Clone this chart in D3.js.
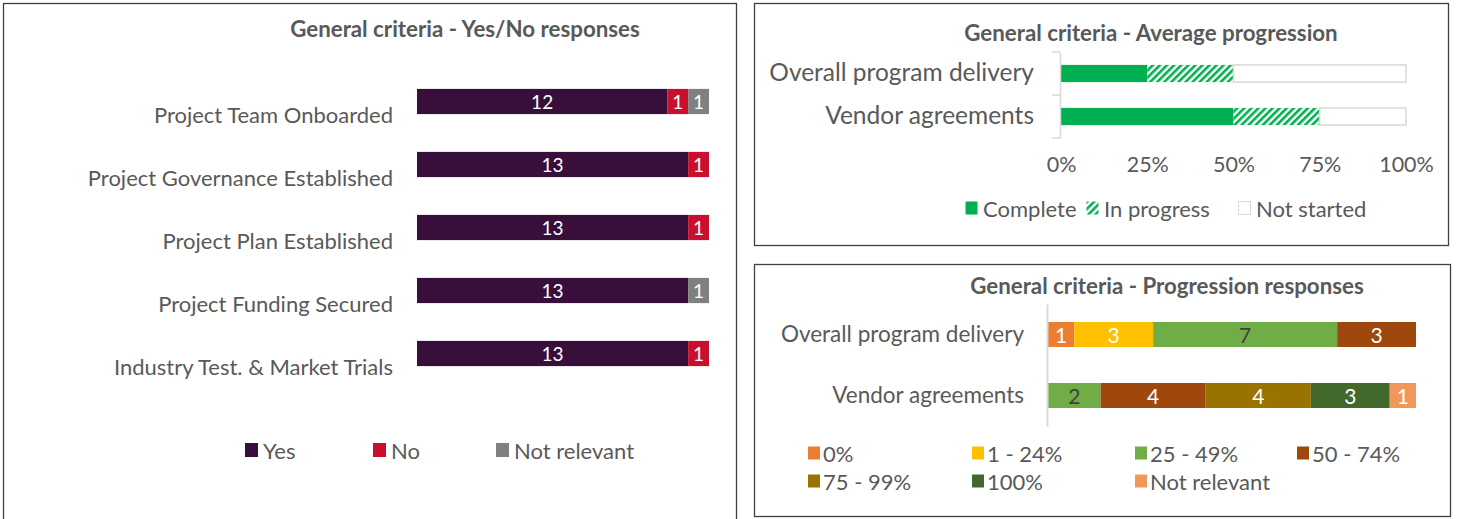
<!DOCTYPE html>
<html>
<head>
<meta charset="utf-8">
<script src="https://cdn.jsdelivr.net/npm/d3@7"></script>
<style>
  body { margin: 0; background: #fff; }
  svg text { font-family: Lato, "Open Sans", sans-serif; fill: #595959; }
</style>
</head>
<body>
<div id="chart"></div>
<script>
// Yes/No chart data
const yesNoCategories = ["Project Team Onboarded", "Project Governance Established", "Project Plan Established", "Project Funding Secured", "Industry Test. & Market Trials"];
const yesNoSeries = ["Yes", "No", "Not relevant"];
const yesValues = [12, 13, 13, 13, 13];
const noValues = [1, 1, 1, 0, 1];
const notRelevantValues = [1, 0, 0, 1, 0];

// Average progression data (percent)
const progCategories = ["Overall program delivery", "Vendor agreements"];
const progSeries = ["Complete", "In progress", "Not started"];
const completeValues = [25, 50];
const inProgressValues = [25, 25];
const notStartedValues = [50, 25];
const progTicks = [0, 25, 50, 75, 100];

// Progression responses data
const respCategories = ["Overall program delivery", "Vendor agreements"];
const respSeries = ["0%", "1 - 24%", "25 - 49%", "50 - 74%", "75 - 99%", "100%", "Not relevant"];
const respOverall = [1, 3, 7, 3, 0, 0, 0];
const respVendor = [0, 0, 2, 4, 4, 3, 1];

const svg = d3.select("#chart").append("svg")
    .attr("width", 1463)
    .attr("height", 519);

// hatch pattern for "In progress"
const defs = svg.append("defs");
const pat = defs.append("pattern")
    .attr("id", "hatch")
    .attr("patternUnits", "userSpaceOnUse")
    .attr("width", 5)
    .attr("height", 5)
    .attr("patternTransform", "rotate(45)");
pat.append("rect").attr("width", 5).attr("height", 5).attr("fill", "#fff");
pat.append("rect").attr("width", 2.6).attr("height", 5).attr("fill", "#00B050");

// panel frames
const frames = [
    { x: 3.5, y: 3.5, w: 733, h: 540 },
    { x: 754.5, y: 3.5, w: 694, h: 242 },
    { x: 754.5, y: 264.5, w: 696, h: 252 }
];
svg.selectAll(".frame").data(frames).enter().append("rect")
    .attr("class", "frame")
    .attr("x", d => d.x).attr("y", d => d.y)
    .attr("width", d => d.w).attr("height", d => d.h)
    .attr("fill", "none")
    .attr("stroke", "#404040")
    .attr("stroke-width", 1.3);

function title(x, y, txt) {
    svg.append("text")
        .attr("x", x).attr("y", y)
        .attr("text-anchor", "middle")
        .attr("dominant-baseline", "central")
        .attr("font-size", "22.3px")
        .attr("font-weight", "bold")
        .text(txt);
}

// ---------- Chart 1: Yes/No responses ----------
(function () {
    title(465, 28, "General criteria - Yes/No responses");

    const colors = { "Yes": "#380F3B", "No": "#C8102E", "Not relevant": "#808080" };
    const rows = yesNoCategories.map((c, i) => ({
        cat: c, "Yes": yesValues[i], "No": noValues[i], "Not relevant": notRelevantValues[i]
    }));
    const stacked = d3.stack().keys(yesNoSeries)(rows);

    const x = d3.scaleLinear().domain([0, 14]).range([417, 709]);
    const y = d3.scaleBand().domain(yesNoCategories).range([70, 385])
        .paddingInner(0.6).paddingOuter(0.3);

    const g = svg.append("g");
    const layer = g.selectAll(".layer").data(stacked).enter().append("g")
        .attr("fill", d => colors[d.key]);
    layer.selectAll("rect").data(d => d).enter().append("rect")
        .attr("x", d => x(d[0]))
        .attr("y", d => y(d.data.cat))
        .attr("width", d => x(d[1]) - x(d[0]))
        .attr("height", y.bandwidth());
    layer.selectAll("text").data(d => d.filter(v => v[1] - v[0] > 0)).enter().append("text")
        .attr("x", d => (x(d[0]) + x(d[1])) / 2)
        .attr("y", d => y(d.data.cat) + y.bandwidth() / 2)
        .attr("text-anchor", "middle")
        .attr("dominant-baseline", "central")
        .attr("font-size", "19px")
        .style("fill", "#fff")
        .text(d => d[1] - d[0]);

    // category labels (sit a bit below the bars, like the original)
    const ax = g.append("g")
        .attr("transform", "translate(417,0)")
        .call(d3.axisLeft(y).tickSize(0).tickPadding(24));
    ax.select(".domain").remove();
    ax.selectAll("text")
        .attr("font-size", "22px")
        .attr("font-family", "Lato")
        .attr("dy", "0.35em")
        .attr("transform", "translate(0,14)");

    // legend
    const lx = [245, 373, 496];
    const lg = g.selectAll(".leg").data(yesNoSeries).enter().append("g")
        .attr("transform", (d, i) => `translate(${lx[i]},450)`);
    lg.append("rect").attr("x", 0).attr("y", -7).attr("width", 13).attr("height", 14)
        .attr("fill", d => colors[d]);
    lg.append("text").attr("x", 18).attr("y", 0)
        .attr("dominant-baseline", "central")
        .attr("font-size", "22px")
        .text(d => d);
})();

// ---------- Chart 2: Average progression ----------
(function () {
    title(1151, 32, "General criteria - Average progression");

    const fills = { "Complete": "#00B050", "In progress": "url(#hatch)", "Not started": "#fff" };
    const rows = progCategories.map((c, i) => ({
        cat: c, "Complete": completeValues[i], "In progress": inProgressValues[i], "Not started": notStartedValues[i]
    }));
    const stacked = d3.stack().keys(progSeries)(rows);

    const x = d3.scaleLinear().domain([0, 100]).range([1061, 1406]);
    const y = d3.scaleBand().domain(progCategories).range([52, 138])
        .paddingInner(0.6).paddingOuter(0.3);

    const g = svg.append("g");
    const layer = g.selectAll(".layer").data(stacked).enter().append("g");
    layer.selectAll("rect").data(d => d.map(v => Object.assign(v, { key: d.key }))).enter().append("rect")
        .attr("x", d => x(d[0]))
        .attr("y", d => y(d.data.cat))
        .attr("width", d => x(d[1]) - x(d[0]))
        .attr("height", y.bandwidth())
        .attr("fill", d => fills[d.key])
        .attr("stroke", d => d.key === "Not started" ? "#D9D9D9" : "none")
        .attr("stroke-width", 1.5);

    // category axis with bracket ticks
    const ax = g.append("g")
        .attr("transform", "translate(1060,0)")
        .call(d3.axisLeft(y).tickSize(0).tickPadding(26).tickSizeOuter(0));
    ax.select(".domain").attr("stroke", "#D9D9D9").attr("stroke-width", 1.5);
    ax.selectAll("text").attr("font-size", "24.5px").attr("font-family", "Lato");
    const bounds = progCategories.map(c => y(c) - y.step() * y.paddingInner() / 2);
    bounds.push(y.range()[1]);
    bounds[0] = y.range()[0];
    ax.selectAll(".bound").data(bounds).enter().append("line")
        .attr("x1", -8).attr("x2", 0)
        .attr("y1", d => d).attr("y2", d => d)
        .attr("stroke", "#D9D9D9").attr("stroke-width", 1.5);

    // value axis
    const xa = g.append("g")
        .attr("transform", "translate(0,157)")
        .call(d3.axisBottom(x).tickValues(progTicks).tickFormat(d => d + "%").tickSize(0).tickPadding(0));
    xa.select(".domain").remove();
    xa.selectAll("text").attr("font-size", "21.5px").attr("font-family", "Lato");

    // legend
    const lx = [965, 1086, 1238];
    const lg = g.selectAll(".leg").data(progSeries).enter().append("g")
        .attr("transform", (d, i) => `translate(${lx[i]},208)`);
    lg.append("rect").attr("x", 0.5).attr("y", -6.5).attr("width", 12).attr("height", 13)
        .attr("fill", d => fills[d])
        .attr("stroke", d => d === "Not started" ? "#D9D9D9" : "none");
    lg.append("text").attr("x", 18).attr("y", 0)
        .attr("dominant-baseline", "central")
        .attr("font-size", "22px")
        .text(d => d);
})();

// ---------- Chart 3: Progression responses ----------
(function () {
    title(1167, 285, "General criteria - Progression responses");

    const colors = ["#ED7D31", "#FFC000", "#70AD47", "#9E480E", "#997300", "#43682B", "#F1975A"];
    const labelColors = ["#fff", "#fff", "#404040", "#fff", "#fff", "#fff", "#fff"];
    const vals = [respOverall, respVendor];
    const rows = respCategories.map((c, i) => {
        const r = { cat: c };
        respSeries.forEach((s, j) => r[s] = vals[i][j]);
        return r;
    });
    const stacked = d3.stack().keys(respSeries)(rows);

    const x = d3.scaleLinear().domain([0, 14]).range([1048, 1416]);
    const y = d3.scaleBand().domain(respCategories).range([304, 426])
        .paddingInner(0.59).paddingOuter(0.295);

    const g = svg.append("g");
    const layer = g.selectAll(".layer").data(stacked).enter().append("g")
        .attr("fill", (d, i) => colors[i]);
    layer.selectAll("rect").data(d => d).enter().append("rect")
        .attr("x", d => x(d[0]))
        .attr("y", d => y(d.data.cat))
        .attr("width", d => x(d[1]) - x(d[0]))
        .attr("height", y.bandwidth());
    layer.selectAll("text").data(d => d.filter(v => v[1] - v[0] > 0)).enter().append("text")
        .attr("x", d => (x(d[0]) + x(d[1])) / 2)
        .attr("y", d => y(d.data.cat) + y.bandwidth() / 2)
        .attr("text-anchor", "middle")
        .attr("dominant-baseline", "central")
        .attr("font-size", "21px")
        .style("fill", function () { return labelColors[d3.select(this.parentNode).datum().index]; })
        .text(d => d[1] - d[0]);

    const ax = g.append("g")
        .attr("transform", "translate(1047,0)")
        .call(d3.axisLeft(y).tickSize(0).tickPadding(23).tickSizeOuter(0));
    ax.select(".domain").attr("stroke", "#D9D9D9").attr("stroke-width", 2);
    ax.selectAll("text").attr("font-size", "22.5px").attr("font-family", "Lato");

    // legend, two rows of four columns
    const cols = [808, 972, 1135, 1297];
    const lg = g.selectAll(".leg").data(respSeries).enter().append("g")
        .attr("transform", (d, i) => `translate(${cols[i % 4]},${i < 4 ? 453 : 481})`);
    lg.append("rect").attr("x", 0).attr("y", -6.5).attr("width", 12).attr("height", 13)
        .attr("fill", (d, i) => colors[i]);
    lg.append("text").attr("x", 15).attr("y", 0)
        .attr("dominant-baseline", "central")
        .attr("font-size", "22px")
        .text(d => d);
})();
</script>
</body>
</html>
